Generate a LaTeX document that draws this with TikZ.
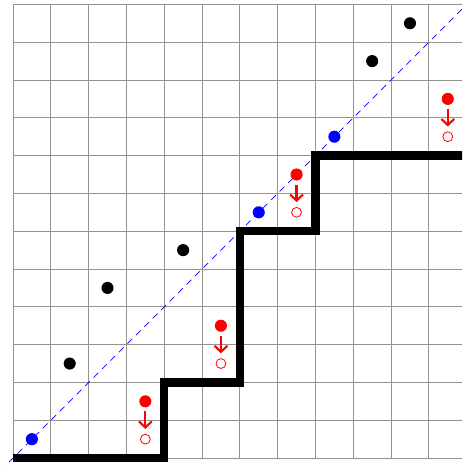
\documentclass[tikz,border=0pt]{standalone}
\usepackage{tikz}
\usetikzlibrary{arrows.meta}

\begin{document}
\begin{tikzpicture}[
  dot/.style={circle,fill,inner sep=0pt,minimum size=3.2mm},
  hollow/.style={circle,draw=red,inner sep=0pt,minimum size=2.6mm,line width=0.6pt},
  mv/.style={red,line width=1.6pt,-{Straight Barb[length=1.6mm,width=3.4mm]},shorten <=1mm,shorten >=1.3mm}]
 \useasboundingbox (-0.344,-0.21) rectangle (11.88,12.116);
 \clip (-0.344,-0.21) rectangle (11.88,12.116);
 \draw[gray!85,line width=0.6pt] (0,0) grid (12,12);
 \draw[blue,line width=0.6pt,dash pattern=on 5pt off 4pt] (-1,-1) -- (13,13);
 \draw[line width=6.2pt] (0,0) -| (4,2) -| (6,6) -| (8,8) -- (12.5,8);
 % points above the line
 \foreach \x/\y [count=\i] in {1.5/2.5,2.5/4.5,4.5/5.5,9.5/10.5,10.5/11.5}
   \node[dot,black] (b\i) at (\x,\y) {};
 % points on the diagonal
 \foreach \x [count=\i] in {0.5,6.5,8.5}
   \node[dot,blue] (u\i) at (\x,\x) {};
 % moved points
 \foreach \x/\y [count=\i] in {3.5/1.5,5.5/3.5,7.5/7.5,11.5/9.5} {
   \node[dot,red] (r\i) at (\x,\y) {};
   \node[hollow] (h\i) at (\x,\y-1) {};
   \draw[mv] (r\i) -- (h\i);
 }
\end{tikzpicture}
\end{document}
